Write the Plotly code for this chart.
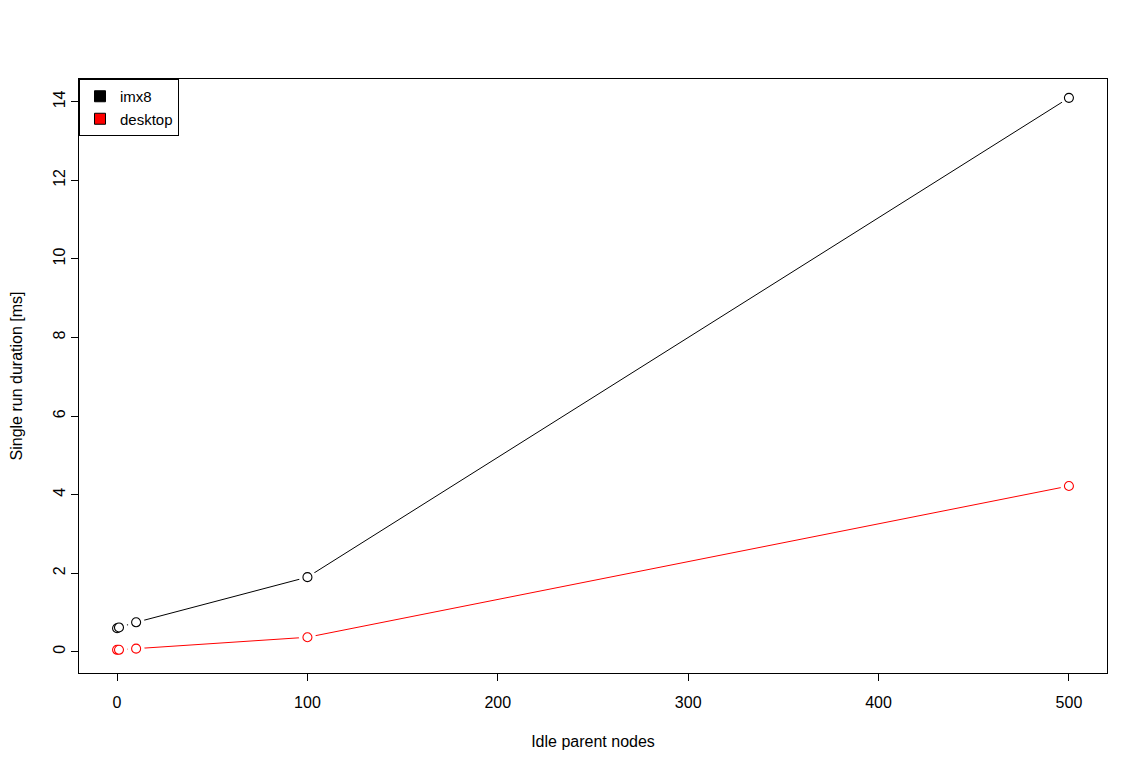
import plotly.graph_objects as go

nodes = [0, 1, 10, 100, 500]
imx8 = [0.60, 0.62, 0.75, 1.90, 14.10]
desktop = [0.05, 0.05, 0.08, 0.37, 4.22]

series = [("imx8", imx8, "black"), ("desktop", desktop, "red")]
FONT = "Liberation Sans, Arial, sans-serif"

fig = go.Figure()
# lines
for name, vals, col in series:
    fig.add_trace(go.Scatter(x=nodes, y=vals, mode="lines", line=dict(color=col, width=1),
                             showlegend=False, hoverinfo="skip"))
# white gaps around points (R type="b")
for name, vals, col in series:
    fig.add_trace(go.Scatter(x=nodes, y=vals, mode="markers",
                             marker=dict(symbol="circle", size=17, color="white", line=dict(width=0)),
                             showlegend=False, hoverinfo="skip"))
# open circles
for name, vals, col in series:
    fig.add_trace(go.Scatter(x=nodes, y=vals, mode="markers", name=name,
                             marker=dict(symbol="circle", size=9, color="white",
                                         line=dict(color=col, width=1.1)),
                             showlegend=False))
# legend entries (filled squares)
for name, vals, col in series:
    fig.add_trace(go.Scatter(x=[None], y=[None], mode="markers", name=name,
                             marker=dict(symbol="square", size=11, color=col,
                                         line=dict(color="black", width=1))))

fig.update_layout(
    width=1148, height=771,
    margin=dict(l=71, r=49, t=71, b=106),
    paper_bgcolor="white", plot_bgcolor="white",
    font=dict(family=FONT, size=16, color="black"),
    legend=dict(x=0, y=1, xanchor="left", yanchor="top",
                bordercolor="black", borderwidth=1, bgcolor="white",
                font=dict(size=15), itemwidth=30, tracegroupgap=0),
    xaxis=dict(range=[-20, 520], tickvals=[0, 100, 200, 300, 400, 500],
               showgrid=False, zeroline=False, showline=True, linecolor="black",
               linewidth=1, mirror=True, ticks="outside", ticklen=7, tickcolor="black",
               ticklabelstandoff=8, tickfont=dict(size=16), automargin=False,
               title=dict(text="Idle parent nodes", standoff=25, font=dict(size=16))),
    yaxis=dict(range=[-0.54, 14.58], tickvals=[0, 2, 4, 6, 8, 10, 12, 14],
               showgrid=False, zeroline=False, showline=True, linecolor="black",
               linewidth=1, mirror=True, ticks="outside", ticklen=7, tickcolor="black",
               tickangle=-90, ticklabelstandoff=0, tickfont=dict(size=16), automargin=False,
               title=dict(text="Single run duration [ms]", standoff=32, font=dict(size=16))),
)

fig.write_html("out.html")
